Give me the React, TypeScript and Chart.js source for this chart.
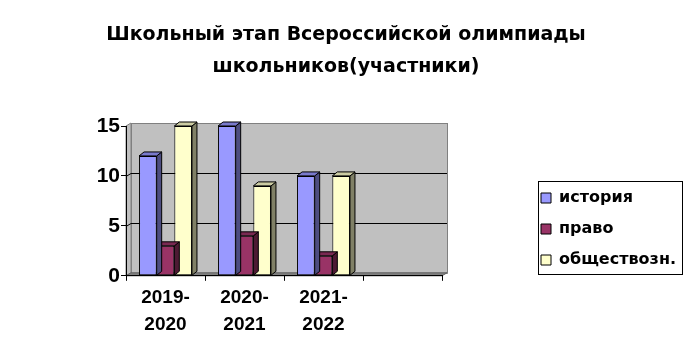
import React, { useEffect, useRef } from 'react';
import { Chart, registerables } from 'chart.js';

Chart.register(...registerables);

const categories: (string | string[])[] = [['2019-', '2020'], ['2020-', '2021'], ['2021-', '2022'], ''];
const seriesNames = ['история', 'право', 'обществозн.'];
const historyValues = [12, 15, 10, null];
const lawValues = [3, 4, 2, null];
const socialValues = [15, 9, 10, null];
const yTicks = [0, 5, 10, 15];
const titleLines = ['Школьный этап Всероссийской олимпиады', 'школьников(участники)'];

const frontColors = ['#9999FF', '#993366', '#FFFFCC'];
const sideColors = ['#4D4D80', '#4D1A33', '#808066'];
const topColors = ['#7A7ACC', '#7A2952', '#CCCCA3'];

const AXIS_FONT = 'Liberation Sans';
const TEXT_FONT = 'DejaVu Sans';
const WALL = { dx: 5, dy: 3 };
const BAR = { dx: 5, dy: 4 };
const LEGEND_TOTAL = 250;
const LEGEND_GAP = 84;
const LEGEND_TOP = 175;

const threeD = {
  id: 'threeD',
  beforeLayout(chart: any) {
    const lg = chart.legend;
    if (lg && !lg.__patched) {
      const fit = lg.fit;
      lg.fit = function () {
        fit.call(this);
        this.width = LEGEND_TOTAL;
      };
      lg.__patched = true;
    }
  },
  afterLayout(chart: any) {
    const lg = chart.legend;
    if (lg) {
      lg.left += LEGEND_GAP;
      const h = lg.bottom - lg.top;
      lg.top = LEGEND_TOP;
      lg.bottom = LEGEND_TOP + h;
    }
  },
  beforeDraw(chart: any) {
    const { ctx, chartArea } = chart;
    const L = chartArea.left, R = chartArea.right, T = chartArea.top, B = chartArea.bottom;
    const ys = chart.scales.y;
    ctx.save();
    ctx.fillStyle = '#C0C0C0';
    ctx.fillRect(L + WALL.dx, T - WALL.dy, R - L, B - T);
    ctx.beginPath();
    ctx.moveTo(L, T);
    ctx.lineTo(L + WALL.dx, T - WALL.dy);
    ctx.lineTo(L + WALL.dx, B - WALL.dy);
    ctx.lineTo(L, B);
    ctx.closePath();
    ctx.fill();
    ctx.strokeStyle = '#808080';
    ctx.lineWidth = 1;
    ctx.stroke();
    ctx.strokeRect(L + WALL.dx + 0.5, T - WALL.dy + 0.5, R - L, B - T);
    ctx.strokeStyle = '#000';
    yTicks.forEach((v) => {
      if (v === 0 || v === yTicks[yTicks.length - 1]) return;
      const py = Math.round(ys.getPixelForValue(v)) + 0.5;
      ctx.beginPath();
      ctx.moveTo(L, py);
      ctx.lineTo(L + WALL.dx, py - WALL.dy);
      ctx.lineTo(R + WALL.dx, py - WALL.dy);
      ctx.stroke();
    });
    ctx.fillStyle = '#808080';
    ctx.beginPath();
    ctx.moveTo(L, B);
    ctx.lineTo(L + WALL.dx, B - WALL.dy);
    ctx.lineTo(R + WALL.dx, B - WALL.dy);
    ctx.lineTo(R, B);
    ctx.closePath();
    ctx.fill();
    ctx.strokeStyle = '#606060';
    ctx.stroke();
    ctx.restore();
  },
  afterDatasetDraw(chart: any, args: any) {
    const { ctx } = chart;
    const di = args.index;
    const ds = chart.data.datasets[di];
    ctx.save();
    ctx.lineWidth = 1;
    ctx.strokeStyle = '#000';
    args.meta.data.forEach((el: any, j: number) => {
      if (ds.data[j] == null) return;
      const { x, y, base, width } = el.getProps(['x', 'y', 'base', 'width'], true);
      const l = x - width / 2;
      const r = x + width / 2;
      ctx.fillStyle = sideColors[di];
      ctx.beginPath();
      ctx.moveTo(r, y);
      ctx.lineTo(r + BAR.dx, y - BAR.dy);
      ctx.lineTo(r + BAR.dx, base - BAR.dy);
      ctx.lineTo(r, base);
      ctx.closePath();
      ctx.fill();
      ctx.stroke();
      ctx.fillStyle = topColors[di];
      ctx.beginPath();
      ctx.moveTo(l, y);
      ctx.lineTo(l + BAR.dx, y - BAR.dy);
      ctx.lineTo(r + BAR.dx, y - BAR.dy);
      ctx.lineTo(r, y);
      ctx.closePath();
      ctx.fill();
      ctx.stroke();
    });
    ctx.restore();
  },
  afterDraw(chart: any) {
    const lg = chart.legend;
    if (!lg || !lg.legendHitBoxes || !lg.legendHitBoxes.length) return;
    const hb = lg.legendHitBoxes;
    const left = Math.min(...hb.map((h: any) => h.left)) - 3;
    const right = Math.max(...hb.map((h: any) => h.left + h.width)) + 6;
    const top = hb[0].top - 9;
    const last = hb[hb.length - 1];
    const bottom = last.top + last.height + 6;
    const { ctx } = chart;
    ctx.save();
    ctx.strokeStyle = '#000';
    ctx.lineWidth = 1;
    ctx.strokeRect(Math.round(left) + 0.5, Math.round(top) + 0.5, Math.round(right - left), Math.round(bottom - top));
    ctx.restore();
  },
};

export default function App() {
  const ref = useRef<HTMLCanvasElement | null>(null);
  useEffect(() => {
    if (!ref.current) return;
    Chart.defaults.font.family = AXIS_FONT;
    const values = [historyValues, lawValues, socialValues];
    const chart = new Chart(ref.current, {
      type: 'bar',
      data: {
        labels: categories,
        datasets: seriesNames.map((name, i) => ({
          label: name,
          data: values[i],
          backgroundColor: frontColors[i],
          borderColor: '#000',
          borderWidth: 1,
          borderSkipped: false,
          barPercentage: 1,
          categoryPercentage: 0.67,
        })),
      },
      options: {
        responsive: false,
        animation: false,
        layout: { padding: { left: 0, right: 0, top: 0, bottom: 19 } },
        scales: {
          x: {
            grid: { offset: true, drawOnChartArea: false, drawTicks: true, tickLength: 5, color: '#000' },
            border: { display: true, color: '#000' },
            ticks: {
              font: { family: AXIS_FONT, size: 19, weight: 'bold', lineHeight: 1.4 },
              color: '#000',
              padding: 4,
              maxRotation: 0,
              autoSkip: false,
            },
          },
          y: {
            min: 0,
            max: 15,
            afterBuildTicks: (s: any) => { s.ticks = yTicks.map((v) => ({ value: v })); },
            grid: { drawOnChartArea: false, drawTicks: true, tickLength: 5, color: '#000' },
            border: { display: true, color: '#000' },
            ticks: { font: { family: AXIS_FONT, size: 21, weight: 'bold' }, color: '#000', padding: 1 },
            afterFit: (s: any) => { s.width = 126; },
          },
        },
        plugins: {
          title: {
            display: true,
            text: titleLines,
            color: '#000',
            font: { family: TEXT_FONT, size: 19, weight: 'bold', lineHeight: 32 / 19 },
            padding: { top: 19, bottom: 43 },
          },
          legend: {
            position: 'right',
            align: 'start',
            labels: {
              boxWidth: 10,
              boxHeight: 10,
              padding: 15,
              color: '#000',
              font: { family: TEXT_FONT, size: 16, weight: 'bold' },
            },
          },
          tooltip: { enabled: false },
        },
      },
      plugins: [threeD],
    } as any);
    return () => chart.destroy();
  }, []);
  return (
    <div style={{ position: 'fixed', left: 0, top: 0, width: 692, height: 361, background: '#fff' }}>
      <canvas ref={ref} width={692} height={361} style={{ display: 'block' }} />
    </div>
  );
}
